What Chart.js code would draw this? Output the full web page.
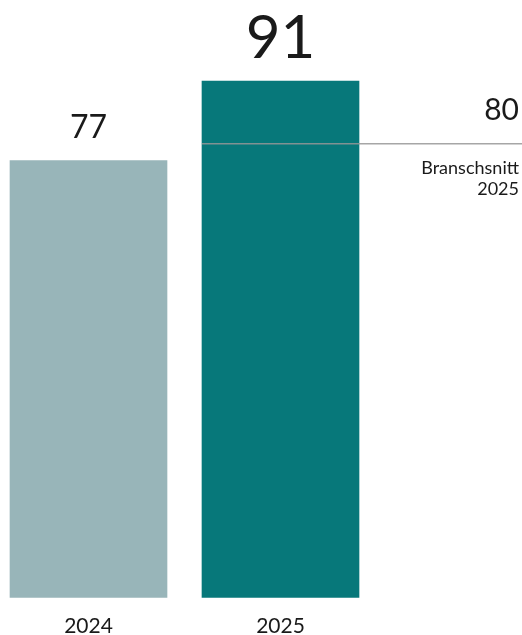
<!DOCTYPE html>
<html>
<head>
<meta charset="utf-8">
<script src="https://cdn.jsdelivr.net/npm/chart.js@4"></script>
<style>
  html, body { margin: 0; padding: 0; background: #fff; overflow: hidden; }
  #wrap { position: relative; width: 522px; height: 655px; }
</style>
</head>
<body>
<div id="wrap"><canvas id="chart"></canvas></div>
<script>
// data
const years = ['2024', '2025'];
const scores = [77, 91];
const barColors = ['#98b5b9', '#07787a'];
const benchmark = 80;
const benchmarkLabel = ['Branschsnitt', '2025'];

// Custom plugin: value labels over the bars and the benchmark line
const labelPlugin = {
    id: 'scoreLabels',
    afterDatasetsDraw: function(chart) {
        const ctx = chart.ctx;
        const meta = chart.getDatasetMeta(0);
        ctx.save();
        ctx.fillStyle = '#1a1a1a';
        ctx.textAlign = 'center';
        ctx.textBaseline = 'alphabetic';

        // Bigger label for the latest year
        meta.data.forEach(function(bar, i) {
            const size = i === meta.data.length - 1 ? 60 : 32;
            ctx.font = size + 'px Lato';
            ctx.fillText(String(scores[i]), bar.x, bar.y - 23);
        });

        // Benchmark line from the last bar to the right edge
        const last = meta.data[meta.data.length - 1];
        const y = chart.scales.y.getPixelForValue(benchmark);
        ctx.strokeStyle = 'rgba(150,150,150,0.85)';
        ctx.lineWidth = 1.5;
        ctx.beginPath();
        ctx.moveTo(last.x - last.width / 2, y);
        ctx.lineTo(chart.width, y);
        ctx.stroke();

        ctx.textAlign = 'right';
        const right = chart.width - 3;
        ctx.font = '30px Lato';
        ctx.fillText(String(benchmark), right, y - 23.5);
        ctx.font = '18px Lato';
        ctx.fillText(benchmarkLabel[0], right, y + 30.5);
        ctx.fillText(benchmarkLabel[1], right, y + 51.5);
        ctx.restore();
    }
};

const config = {
    type: 'bar',
    data: {
        datasets: [{
            data: scores.map(function(v, i) { return { x: i, y: v }; }),
            backgroundColor: barColors,
            borderWidth: 0,
            barThickness: 157
        }]
    },
    plugins: [labelPlugin],
    options: {
        responsive: true,
        maintainAspectRatio: false,
        animation: false,
        layout: { padding: 0 },
        plugins: {
            legend: { display: false },
            tooltip: { enabled: false }
        },
        scales: {
            x: {
                type: 'linear',
                offset: false,
                min: -0.4609375,
                max: 2.2578125,
                grid: { display: false, drawTicks: false, offset: false },
                border: { display: false },
                ticks: {
                    stepSize: 1,
                    includeBounds: false,
                    autoSkip: false,
                    maxRotation: 0,
                    padding: 16,
                    color: '#1a1a1a',
                    font: { family: 'Lato', size: 21, lineHeight: 1.2 },
                    callback: function(value) {
                        return years[value] !== undefined ? years[value] : '';
                    }
                }
            },
            y: {
                display: false,
                min: 0,
                max: 105.3
            }
        }
    }
};

new Chart(document.getElementById('chart'), config);
</script>
</body>
</html>
